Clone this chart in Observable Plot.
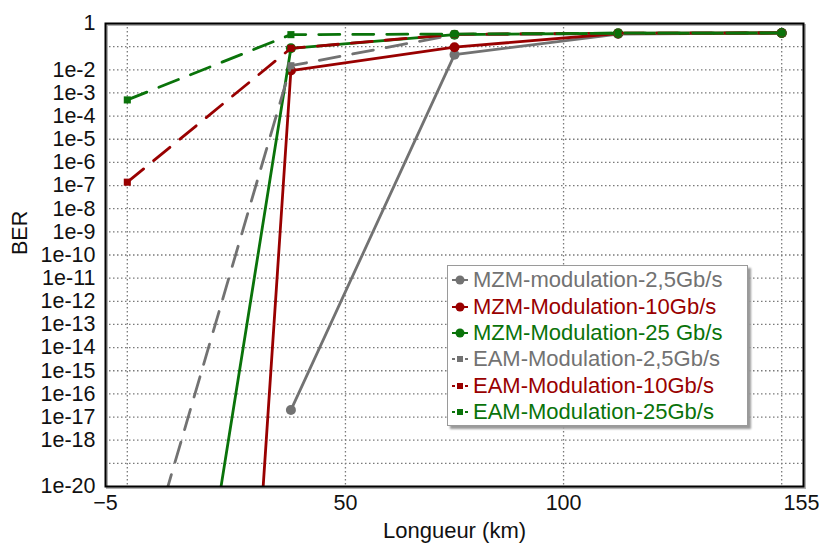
<!DOCTYPE html>
<html>
<head>
<meta charset="utf-8">
<script src="https://cdn.jsdelivr.net/npm/d3@7"></script>
<script src="https://cdn.jsdelivr.net/npm/@observablehq/plot@0.6"></script>
<style>
  html, body { margin: 0; padding: 0; background: #fff; }
  #wrap { position: relative; width: 819px; height: 543px; font-family: "Liberation Sans", Arial, sans-serif; }
  #legend { position: absolute; left: 447px; top: 265px; width: 301px; height: 161px;
    background: #fff; border: 1px solid #9a9a9a; box-shadow: 3px 3px 2px #9a9a9a; box-sizing: border-box; padding-top: 1px; }
  .row { height: 26.4px; display: flex; align-items: center; font-size: 22px; white-space: nowrap; }
  .row svg { margin-left: 3px; margin-right: 4px; }
</style>
</head>
<body>
<div id="wrap"><div id="legend"></div></div>
<script>
// ---- data ----
const distances = [0, 37.5, 75, 112.5, 150];            // Longueur (km)
const mzm2_5 = [null, 2e-17, 0.045, 0.35, 0.39];
const mzm10  = [1e-108, 0.0093, 0.095, 0.37, 0.39];
const mzm25  = [4e-46, 0.085, 0.33, 0.38, 0.39];
const eam2_5 = [1e-26, 0.015, 0.33, 0.37, 0.39];
const eam10  = [1.4e-7, 0.085, 0.34, 0.38, 0.39];
const eam25  = [5e-4, 0.33, 0.35, 0.38, 0.39];
const seriesNames = ["MZM-modulation-2,5Gb/s", "MZM-Modulation-10Gb/s", "MZM-Modulation-25 Gb/s",
                     "EAM-Modulation-2,5Gb/s", "EAM-Modulation-10Gb/s", "EAM-Modulation-25Gb/s"];
const seriesValues = [mzm2_5, mzm10, mzm25, eam2_5, eam10, eam25];
const xTicks = [-5, 50, 100];
const xTickLast = [155];
const xGrid = [0, 50, 100, 150];
const yTicks = [1, 1e-2, 1e-3, 1e-4, 1e-5, 1e-6, 1e-7, 1e-8, 1e-9, 1e-10, 1e-11, 1e-12, 1e-13,
                1e-14, 1e-15, 1e-16, 1e-17, 1e-18, 1e-20];
const yGrid = d3.range(1, 20).map(k => Math.pow(10, -k));

// ---- styles ----
const colors = ["#727272", "#990000", "#0a730a", "#727272", "#990000", "#0a730a"];
const dashed = [false, false, false, true, true, true];

const series = seriesValues.map((vals, s) =>
  distances.map((x, i) => ({x, y: vals[i], s})).filter(d => d.y != null));

const gridStyle = {stroke: "#7a7a7a", strokeDasharray: "1.5,2.5", strokeWidth: 1.3};
const marks = [
  Plot.ruleY(yGrid, {y: d => d, ...gridStyle}),
  Plot.ruleX(xGrid, {x: d => d, ...gridStyle})
];
series.forEach((data, s) => {
  marks.push(Plot.line(data, {x: "x", y: "y", stroke: colors[s], strokeWidth: 2.8,
    strokeDasharray: dashed[s] ? "21,13" : null, clip: true}));
  marks.push(Plot.dot(data, {x: "x", y: "y", fill: colors[s], stroke: "none",
    r: dashed[s] ? 4 : 5, symbol: dashed[s] ? "square" : "circle", clip: true}));
});
const fmtY = d => d === 1 ? "1" : "1e-" + Math.round(-Math.log10(d));
marks.push(
  Plot.frame({stroke: "#b0b0b0", strokeWidth: 2, dx: 1.5, dy: 1.5}),
  Plot.frame({stroke: "#000", strokeWidth: 2}),
  Plot.axisY(yTicks, {tickSize: 0, tickPadding: 10, label: null, tickFormat: fmtY}),
  Plot.axisX(xTicks, {tickSize: 0, tickPadding: 8, label: null}),
  Plot.axisX(xTickLast, {tickSize: 0, tickPadding: 8, label: null, dx: -2}),
  Plot.text(["BER"], {frameAnchor: "left", dx: -85, rotate: -90, fontSize: 21.5, fill: "#111"}),
  Plot.text(["Longueur (km)"], {frameAnchor: "bottom", lineAnchor: "middle", dy: 44, fontSize: 22, fill: "#111"})
);

const chart = Plot.plot({
  width: 819, height: 543,
  marginLeft: 105, marginRight: 16, marginTop: 23, marginBottom: 57,
  x: {domain: [-5, 155]},
  y: {type: "log", domain: [1e-20, 1]},
  style: {fontSize: "21.5px", fontFamily: "'Liberation Sans', Arial, sans-serif", color: "#111", background: "#fff", overflow: "visible"},
  marks
});
document.getElementById("wrap").prepend(chart);

// ---- legend ----
const legend = document.getElementById("legend");
seriesNames.forEach((name, s) => {
  const row = document.createElement("div");
  row.className = "row";
  row.style.color = colors[s];
  const mk = dashed[s]
    ? `<rect x="6" y="3" width="6" height="6" fill="${colors[s]}"/><line x1="1" y1="6" x2="4" y2="6" stroke="${colors[s]}" stroke-width="2"/><line x1="14" y1="6" x2="17" y2="6" stroke="${colors[s]}" stroke-width="2"/>`
    : `<line x1="1" y1="6" x2="17" y2="6" stroke="${colors[s]}" stroke-width="2"/><circle cx="9" cy="6" r="4.5" fill="${colors[s]}"/>`;
  row.innerHTML = `<svg width="18" height="12">${mk}</svg><span>${name}</span>`;
  legend.appendChild(row);
});
</script>
</body>
</html>
